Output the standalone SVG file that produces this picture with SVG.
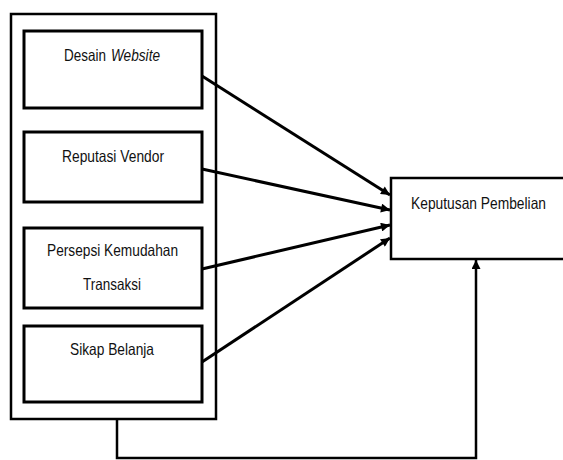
<svg xmlns="http://www.w3.org/2000/svg" width="563" height="460" viewBox="0 0 563 460">
<style>
.box{fill:#fff;stroke:#000;stroke-width:3}
.outer{fill:#fff;stroke:#000;stroke-width:2.5}
.lbl{font-family:"Liberation Sans",Arial,sans-serif;font-size:16.5px;fill:#111}
.con{stroke:#000;stroke-width:3;fill:none}
.con2{stroke:#000;stroke-width:2.5;fill:none}
</style>
<defs>
<marker id="ah" viewBox="0 0 10 10" refX="10" refY="5" markerWidth="10" markerHeight="9" markerUnits="userSpaceOnUse" orient="auto">
<path d="M0,0 L10,5 L0,10 z" fill="#000"/>
</marker>
</defs>
<g id="group-outer"><rect class="outer" x="11" y="14" width="205" height="405"/></g>
<g id="node-desain"><rect class="box" x="24" y="31" width="178" height="77"/>
<text class="lbl" x="64" y="61" textLength="42" lengthAdjust="spacingAndGlyphs">Desain</text>
<text class="lbl" x="111" y="61" textLength="49" lengthAdjust="spacingAndGlyphs" font-style="italic">Website</text></g>
<g id="node-reputasi"><rect class="box" x="24" y="132" width="178" height="70"/>
<text class="lbl" x="62" y="162" textLength="102" lengthAdjust="spacingAndGlyphs">Reputasi Vendor</text></g>
<g id="node-persepsi"><rect class="box" x="24" y="228" width="178" height="80"/>
<text class="lbl" x="47" y="256" textLength="131" lengthAdjust="spacingAndGlyphs">Persepsi Kemudahan</text>
<text class="lbl" x="83" y="290" textLength="58" lengthAdjust="spacingAndGlyphs">Transaksi</text></g>
<g id="node-sikap"><rect class="box" x="24" y="326" width="178" height="76"/>
<text class="lbl" x="70" y="355" textLength="84" lengthAdjust="spacingAndGlyphs">Sikap Belanja</text></g>
<g id="node-keputusan"><rect class="outer" x="391" y="178" width="185" height="81"/>
<text class="lbl" font-size="14.5" x="411" y="209" textLength="135" lengthAdjust="spacingAndGlyphs">Keputusan Pembelian</text></g>
<g id="connectors">
<line class="con" x1="202" y1="76" x2="390" y2="195" marker-end="url(#ah)"/>
<line class="con" x1="202" y1="169" x2="390" y2="210" marker-end="url(#ah)"/>
<line class="con" x1="202" y1="269" x2="390" y2="225" marker-end="url(#ah)"/>
<line class="con" x1="202" y1="362" x2="390" y2="238" marker-end="url(#ah)"/>
<polyline class="con2" points="117,419 117,458 476,458 476,260" marker-end="url(#ah)"/>
</g>
</svg>
